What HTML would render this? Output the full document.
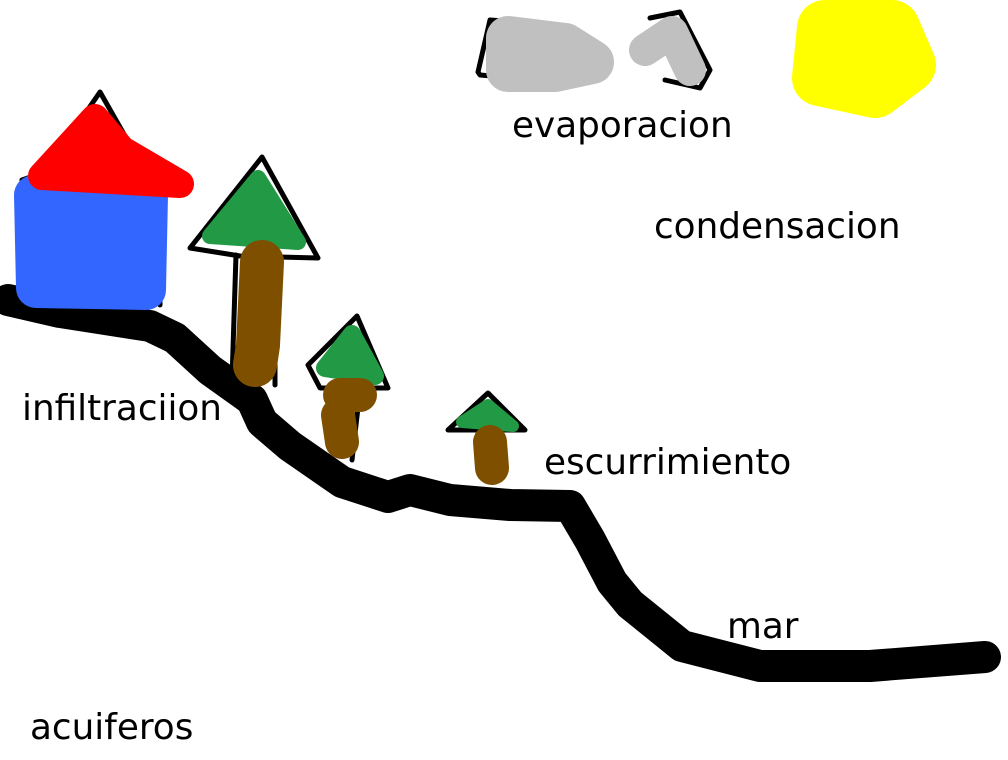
<!DOCTYPE html>
<html><head><meta charset="utf-8"><style>
html,body{margin:0;padding:0;background:#fff;}
svg{display:block}
text{font-family:"DejaVu Sans","Liberation Sans",sans-serif;font-size:35.8px;fill:#000}
</style></head><body>
<svg width="1008" height="760" viewBox="0 0 1008 760" xmlns="http://www.w3.org/2000/svg">
<g stroke-linecap="round" stroke-linejoin="round" fill="none">
<path d="M8 300 L60 312 L150 326 L175 338 L210 370 L252 400 L262 422 L290 446 L342 482 L388 497 L410 490 L450 500 L510 505 L570 506 L590 540 L612 582 L630 604 L682 646 L760 666 L870 666 L985 657" stroke="#000" stroke-width="32"/>
<path d="M22 300 L22 180 L45 172 L100 92 L150 180 L160 180 L160 305" stroke="#000" stroke-width="5"/>
<path d="M34 195 L148 195 L146 290 L36 288 Z" stroke="#3366ff" stroke-width="40" fill="#3366ff"/>
<path d="M42 176 L95 118 L122 150 L180 184 Z" stroke="#ff0000" stroke-width="28" fill="#ff0000"/>
<path d="M190 248 L262 157 L318 258 L240 256 Z" stroke="#000" stroke-width="5"/>
<path d="M210 236 L258 178 L298 242 Z" stroke="#229944" stroke-width="16" fill="#229944"/>
<path d="M236 255 L232 380 M275 255 L275 385" stroke="#000" stroke-width="5"/>
<path d="M262 262 L258 345 L255 365" stroke="#7f4f00" stroke-width="44"/>
<path d="M308 365 L357 316 L388 388 L320 388 Z M330 390 L330 440 M360 390 L352 460" stroke="#000" stroke-width="5"/>
<path d="M325 368 L352 334 L375 376 Z" stroke="#229944" stroke-width="18" fill="#229944"/>
<path d="M340 395 L360 395 M338 415 L342 442" stroke="#7f4f00" stroke-width="34"/>
<path d="M448 430 L488 393 L525 430 Z" stroke="#000" stroke-width="5"/>
<path d="M462 422 L488 405 L513 426 Z" stroke="#229944" stroke-width="12" fill="#229944"/>
<path d="M490 442 L492 468" stroke="#7f4f00" stroke-width="34"/>
<path d="M478 72 L490 20 L560 25 L600 65 L560 82 L480 75 Z M650 18 L680 12 L710 70 L700 88 L665 80" stroke="#000" stroke-width="5"/>
<path d="M508 38 L565 45 L592 62 L555 70 L508 70 Z" stroke="#c0c0c0" stroke-width="44" fill="#c0c0c0"/>
<path d="M645 50 L672 32 L690 70" stroke="#c0c0c0" stroke-width="32"/>
<path d="M825 28 L892 28 L908 65 L875 90 L820 78 Z" stroke="#ffff00" stroke-width="56" fill="#ffff00"/>
</g>
<text x="512" y="137">evaporacion</text>
<text x="654" y="238">condensacion</text>
<text x="22" y="420">infiltraciion</text>
<text x="544" y="474">escurrimiento</text>
<text x="727" y="638">mar</text>
<text x="30" y="739">acuiferos</text>
</svg>
</body></html>
